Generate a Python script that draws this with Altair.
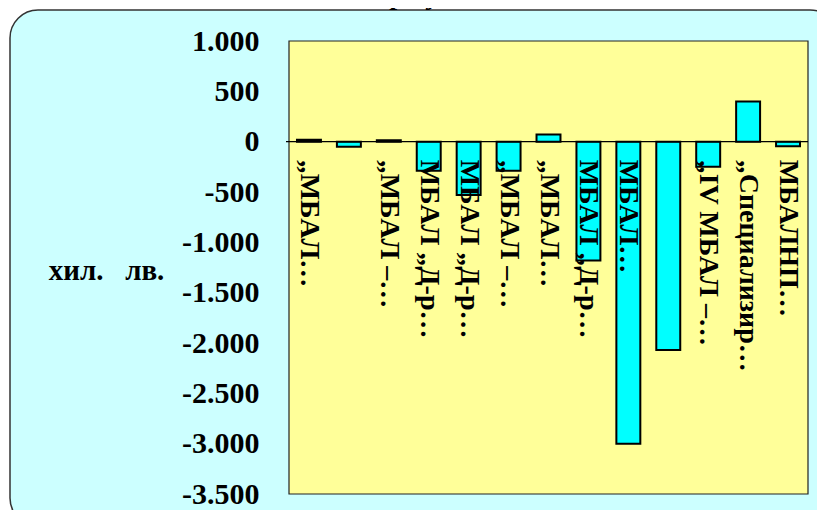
import altair as alt
import pandas as pd

# ---- data ----
labels = ["„МБАЛ…", "", "„МБАЛ –…", "МБАЛ „Д-р…", "МБАЛ „Д-р…", "„МБАЛ –…",
          "„МБАЛ…", "МБАЛ „Д-р…", "МБАЛ…", "", "„IV МБАЛ –…",
          "„Специализир…", "МБАЛНП…"]
values = [20, -50, 15, -290, -530, -290, 70, -1180, -3000, -2070, -250, 400, -45]
y_ticks = [1000, 500, 0, -500, -1000, -1500, -2000, -2500, -3000, -3500]
y_title = "хил.\u00a0\u00a0\u00a0лв."
title_text = "Фиг. 3. Финансови резултати за 2017 г. на МБАЛ и СБАЛ"

W, H = 519, 453
FONT = "Liberation Serif"

df = pd.DataFrame({"idx": list(range(1, len(values) + 1)), "label": labels, "value": values})
one = pd.DataFrame({"a": [0]})

xscale = alt.Scale(paddingInner=0.4, paddingOuter=0.2)
yscale = alt.Scale(domain=[-3500, 1000], nice=False, zero=False)

bg = alt.Chart(one).mark_rect(
    fill="#CCFFFF", stroke="#333333", strokeWidth=1.5, cornerRadius=28
).encode(x=alt.value(-279), x2=alt.value(W + 30), y=alt.value(-31), y2=alt.value(H + 32))

plot_bg = alt.Chart(one).mark_rect(
    fill="#FFFF99", stroke="#222222", strokeWidth=1.2
).encode(x=alt.value(0), x2=alt.value(W), y=alt.value(0), y2=alt.value(H))

label_expr = ("datum.value < 0 ? '-' + replace(format(-datum.value, ','), ',', '.') "
              ": replace(format(datum.value, ','), ',', '.')")

bars = alt.Chart(df).mark_bar(
    fill="#00FFFF", stroke="#000000", strokeWidth=2
).encode(
    x=alt.X("idx:O", axis=None, scale=xscale, sort=None),
    y=alt.Y("value:Q", scale=yscale,
            axis=alt.Axis(values=y_ticks, labelExpr=label_expr, domain=False, ticks=False,
                          grid=False, labelPadding=30, labelFont=FONT, labelFontWeight="bold",
                          labelFontSize=30, labelColor="#000000", labelOverlap=False,
                          labelFlush=False, zindex=1,
                          title=y_title, titleAngle=0, titleX=-183, titleY=229,
                          titleAlign="center", titleBaseline="middle", titleFont=FONT,
                          titleFontWeight="bold", titleFontSize=29, titleColor="#000000")),
)

zero = alt.Chart(one).mark_rule(color="#000000", strokeWidth=1.2).encode(
    y=alt.datum(0), x=alt.value(-3), x2=alt.value(W)
)

texts = alt.Chart(df).mark_text(
    angle=90, align="left", baseline="middle", dx=18,
    font=FONT, fontWeight="bold", fontSize=28, color="#000000"
).encode(
    x=alt.X("idx:O", axis=None, scale=xscale, sort=None),
    y=alt.datum(0),
    text="label:N",
)

title = alt.Chart(pd.DataFrame({"t": [title_text]})).mark_text(
    align="left", baseline="alphabetic", font=FONT, fontWeight="bold",
    fontStyle="italic", fontSize=28, color="#000000"
).encode(x=alt.value(-134), y=alt.value(-37), text="t:N")

chart = alt.layer(bg, plot_bg, bars, zero, texts, title).properties(
    width=W, height=H,
    autosize=alt.AutoSizeParams(type="none"),
    padding={"left": 281, "top": 33, "right": 9, "bottom": 16},
    background="#FFFFFF",
).configure_view(stroke=None)

chart.save("out.html", embed_options={"renderer": "svg", "actions": False})
